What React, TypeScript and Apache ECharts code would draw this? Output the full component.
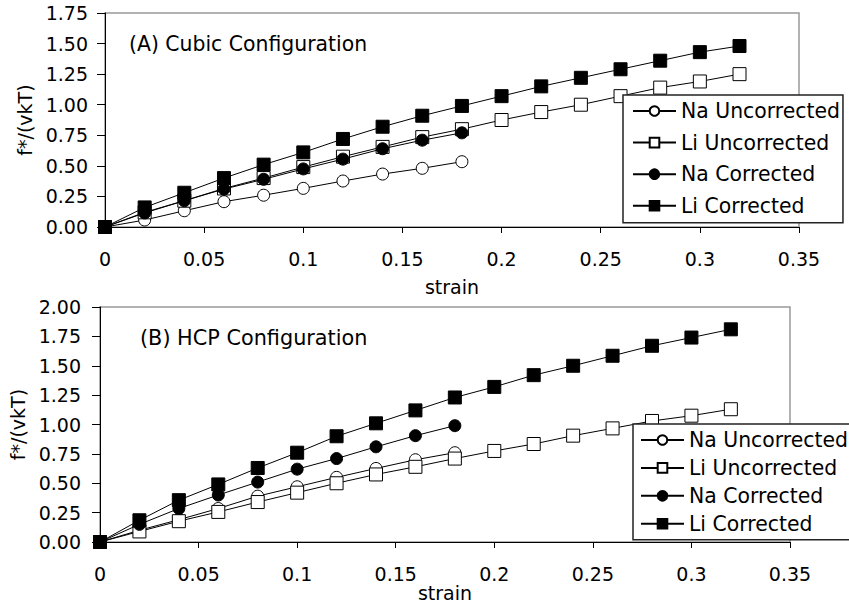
import React, { useEffect, useRef } from "react";
import * as echarts from "echarts";

const strainLi = [0, 0.02, 0.04, 0.06, 0.08, 0.1, 0.12, 0.14, 0.16, 0.18, 0.2, 0.22, 0.24, 0.26, 0.28, 0.3, 0.32];
const strainNa = [0, 0.02, 0.04, 0.06, 0.08, 0.1, 0.12, 0.14, 0.16, 0.18];

const seriesNames = ["Na Uncorrected", "Li Uncorrected", "Na Corrected", "Li Corrected"];

// (A) Cubic configuration
const naUncA = [0, 0.057, 0.133, 0.207, 0.26, 0.316, 0.376, 0.433, 0.48, 0.534];
const liUncA = [0, 0.12, 0.215, 0.315, 0.4, 0.49, 0.575, 0.655, 0.735, 0.8, 0.875, 0.94, 1.0, 1.07, 1.14, 1.19, 1.25];
const naCorA = [0, 0.115, 0.215, 0.31, 0.39, 0.475, 0.555, 0.64, 0.71, 0.77];
const liCorA = [0, 0.16, 0.28, 0.4, 0.51, 0.61, 0.72, 0.82, 0.91, 0.99, 1.07, 1.15, 1.22, 1.29, 1.36, 1.43, 1.48];

// (B) HCP configuration
const naUncB = [0, 0.1, 0.19, 0.285, 0.39, 0.47, 0.55, 0.626, 0.7, 0.76];
const liUncB = [0, 0.09, 0.177, 0.256, 0.34, 0.42, 0.5, 0.575, 0.64, 0.71, 0.775, 0.834, 0.905, 0.967, 1.03, 1.075, 1.13];
const naCorB = [0, 0.15, 0.285, 0.4, 0.51, 0.62, 0.71, 0.81, 0.905, 0.99];
const liCorB = [0, 0.185, 0.356, 0.49, 0.63, 0.76, 0.9, 1.01, 1.12, 1.23, 1.32, 1.42, 1.5, 1.585, 1.67, 1.74, 1.81];

const xTicks = { min: 0, max: 0.35, interval: 0.05 };
const yTicksA = { min: 0, max: 1.75, interval: 0.25 };
const yTicksB = { min: 0, max: 2, interval: 0.25 };

const FONT = "DejaVu Sans";

const pairs = (xs: number[], ys: number[]) => ys.map((v, i) => [xs[i], v]);

export default function App() {
  const ref = useRef<HTMLDivElement>(null);
  useEffect(() => {
    if (!ref.current) return;
    const chart = echarts.init(ref.current, undefined, { renderer: "svg" });

    const styles = [
      { symbol: "circle", size: 12, fill: "#fff" },
      { symbol: "rect", size: 13, fill: "#fff" },
      { symbol: "circle", size: 12, fill: "#000" },
      { symbol: "rect", size: 13, fill: "#000" },
    ];

    const mk = (name: string, idx: number, data: number[][], axis: number) => ({
      type: "line",
      name,
      xAxisIndex: axis,
      yAxisIndex: axis,
      data,
      symbol: styles[idx].symbol,
      symbolSize: styles[idx].size,
      showSymbol: true,
      lineStyle: { color: "#000", width: 1 },
      itemStyle: { color: styles[idx].fill, borderColor: "#000", borderWidth: 1 },
      emphasis: { disabled: true },
      z: 2 + idx,
    });

    const xAxisBase = (grid: number, gap: number) => ({
      gridIndex: grid,
      type: "value",
      ...xTicks,
      name: "strain",
      nameLocation: "middle",
      nameGap: gap,
      nameTextStyle: { fontSize: 19, fontFamily: FONT, color: "#000" },
      axisLine: { show: true, onZero: false, lineStyle: { color: "#000", width: 1 } },
      axisTick: { show: true, length: 6, lineStyle: { color: "#000" } },
      axisLabel: { margin: 22, fontSize: 19, fontFamily: FONT, color: "#000" },
      splitLine: { show: false },
    });

    const yAxisBase = (grid: number, ticks: any, gap: number, margin: number) => ({
      gridIndex: grid,
      type: "value",
      ...ticks,
      name: "f*/(vkT)",
      nameLocation: "middle",
      nameGap: gap,
      nameTextStyle: { fontSize: 19, fontFamily: FONT, color: "#000" },
      axisLine: { show: true, onZero: false, lineStyle: { color: "#000", width: 1 } },
      axisTick: { show: true, length: 8, lineStyle: { color: "#000" } },
      axisLabel: {
        margin: margin,
        fontSize: 19,
        fontFamily: FONT,
        color: "#000",
        formatter: (v: number) => v.toFixed(2),
      },
      splitLine: { show: false },
    });

    const legendBase = (top: number, left: number, gap: number, padding: number[]) => ({
      orient: "vertical",
      left,
      top,
      padding,
      itemWidth: 43,
      itemHeight: 12,
      itemGap: gap,
      borderColor: "#222",
      borderWidth: 1.5,
      backgroundColor: "#fff",
      selectedMode: false,
      textStyle: { fontSize: 20.4, fontFamily: FONT, color: "#000" },
      data: seriesNames,
      z: 10,
    });

    chart.setOption({
      animation: false,
      backgroundColor: "#fff",
      grid: [
        { left: 105, top: 13, width: 694, height: 214, show: true, borderColor: "#999", borderWidth: 1.5, backgroundColor: "transparent" },
        { left: 100, top: 307, width: 690, height: 235, show: true, borderColor: "#999", borderWidth: 1.5, backgroundColor: "transparent" },
      ],
      xAxis: [xAxisBase(0, 50), xAxisBase(1, 40)],
      yAxis: [yAxisBase(0, yTicksA, 63, 17), yAxisBase(1, yTicksB, 61, 19)],
      legend: [
        legendBase(95, 623, 11.6, [6, 3, 7, 9]),
        legendBase(424, 633, 7.9, [6, 3, 6, 7]),
      ],
      graphic: [
        { type: "text", x: 129, y: 44, style: { text: "(A) Cubic Configuration", fontSize: 20.4, fontFamily: FONT, fill: "#000", verticalAlign: "middle" } },
        { type: "text", x: 140, y: 338, style: { text: "(B) HCP Configuration", fontSize: 20.8, fontFamily: FONT, fill: "#000", verticalAlign: "middle" } },
      ],
      series: [
        mk(seriesNames[0], 0, pairs(strainNa, naUncA), 0),
        mk(seriesNames[1], 1, pairs(strainLi, liUncA), 0),
        mk(seriesNames[2], 2, pairs(strainNa, naCorA), 0),
        mk(seriesNames[3], 3, pairs(strainLi, liCorA), 0),
        mk(seriesNames[0], 0, pairs(strainNa, naUncB), 1),
        mk(seriesNames[1], 1, pairs(strainLi, liUncB), 1),
        mk(seriesNames[2], 2, pairs(strainNa, naCorB), 1),
        mk(seriesNames[3], 3, pairs(strainLi, liCorB), 1),
      ],
    });
    return () => chart.dispose();
  }, []);

  return (
    <div
      ref={ref}
      style={{ position: "fixed", left: 0, top: 0, width: 849, height: 608, background: "#fff" }}
    />
  );
}
